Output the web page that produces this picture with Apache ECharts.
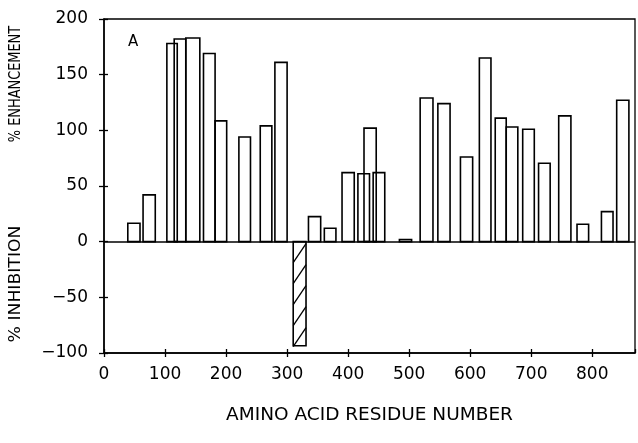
<!DOCTYPE html>
<html>
<head>
<meta charset="utf-8">
<script src="https://cdn.jsdelivr.net/npm/echarts@6/dist/echarts.min.js"></script>
<style>
html,body{margin:0;padding:0;background:#fff;}
#chart{width:638px;height:443px;}
</style>
</head>
<body>
<div id="chart"></div>
<script>
// Peptide residue ranges (start / end residue) and response (%)
const peptideStart = [39, 64, 103, 115, 134, 163, 182, 221, 256, 280, 310, 335, 361, 390, 416, 426, 441, 484, 518, 547, 584, 615, 641, 659, 686, 712, 745, 775, 815, 840];
const peptideEnd   = [59, 84, 120, 134, 157, 182, 201, 240, 275, 300, 331, 355, 380, 410, 435, 446, 460, 504, 539, 567, 604, 634, 659, 678, 705, 731, 765, 794, 834, 860];
const response     = [16.5, 42, 178, 182, 183, 169, 108.5, 94, 104, 161, -93.5, 22.5, 12, 62, 61, 102, 62, 2, 129, 124, 76, 165, 111, 103, 101, 70.5, 113, 15.6, 27, 127];
const xTicks = [0, 100, 200, 300, 400, 500, 600, 700, 800];
const yTicks = [-100, -50, 0, 50, 100, 150, 200];

const FONT = 'DejaVu Sans';
const data = peptideStart.map((s, i) => [s, peptideEnd[i], response[i]]);

function renderItem(params, api) {
  const s = api.value(0), e = api.value(1), v = api.value(2);
  const pTop = api.coord([s, v]);
  const pBase = api.coord([e, 0]);
  const x = pTop[0], w = pBase[0] - pTop[0];
  const y = Math.min(pTop[1], pBase[1]);
  const h = Math.abs(pBase[1] - pTop[1]);
  const children = [{
    type: 'rect',
    shape: { x: x, y: y, width: w, height: h },
    style: { fill: 'none', stroke: '#000', lineWidth: 1.6 }
  }];
  if (v < 0) {
    const step = 21, rise = 19;
    for (let yy = y + step; yy <= y + h + 1; yy += step) {
      children.push({
        type: 'line',
        shape: { x1: x, y1: yy, x2: x + w, y2: yy - rise },
        style: { stroke: '#000', lineWidth: 1.3 }
      });
    }
  }
  return { type: 'group', children: children };
}

const chart = echarts.init(document.getElementById('chart'), null, { renderer: 'canvas' });
const axisLabelStyle = { color: '#000', fontFamily: FONT, fontSize: 17 };
chart.setOption({
  animation: false,
  backgroundColor: '#fff',
  grid: { left: 104, right: 3, top: 19, bottom: 90, show: true, borderColor: '#000', borderWidth: 1.3 },
  xAxis: [{
    type: 'value', min: 0, max: 870, interval: 100,
    name: 'AMINO ACID RESIDUE NUMBER', nameLocation: 'middle', nameGap: 53,
    nameTextStyle: { color: '#000', fontFamily: FONT, fontSize: 18.5 },
    axisLine: { onZero: false, lineStyle: { color: '#000', width: 1.5 } },
    axisTick: { show: true, length: 4, lineStyle: { color: '#000', width: 1.3 } },
    axisLabel: Object.assign({ margin: 13, showMaxLabel: false,
      formatter: v => xTicks.indexOf(v) >= 0 ? String(v) : '' }, axisLabelStyle),
    splitLine: { show: false }
  }, {
    type: 'value', min: 0, max: 870, interval: 100, position: 'bottom',
    axisLine: { show: false, onZero: false },
    axisTick: { show: true, inside: true, length: 4, lineStyle: { color: '#000', width: 1.3 } },
    axisLabel: { show: false }, splitLine: { show: false }
  }],
  yAxis: [{
    type: 'value', min: -100, max: 200, interval: 50,
    axisLine: { show: true, lineStyle: { color: '#000', width: 1.5 } },
    axisTick: { show: true, length: 5, lineStyle: { color: '#000', width: 1.3 } },
    axisLabel: Object.assign({ margin: 16,
      formatter: v => yTicks.indexOf(v) >= 0 ? String(v).replace('-', '\u2212') : '' }, axisLabelStyle),
    splitLine: { show: false }
  }, {
    type: 'value', min: -100, max: 200, interval: 50, position: 'left',
    axisLine: { show: false },
    axisTick: { show: true, inside: true, length: 4, lineStyle: { color: '#000', width: 1.3 } },
    axisLabel: { show: false }, splitLine: { show: false }
  }],
  graphic: [
    { type: 'text', left: 128, top: 35, style: { text: 'A', fill: '#000', font: '15px "DejaVu Sans"' } },
    { type: 'text', x: 16, y: 84, rotation: Math.PI / 2, scaleX: 0.86,
      style: { text: '% ENHANCEMENT', fill: '#000', font: '15px "DejaVu Sans"', align: 'center', verticalAlign: 'middle' } },
    { type: 'text', x: 16, y: 284, rotation: Math.PI / 2, scaleX: 1.15,
      style: { text: '% INHIBITION', fill: '#000', font: '15px "DejaVu Sans"', align: 'center', verticalAlign: 'middle' } }
  ],
  series: [{
    type: 'custom',
    renderItem: renderItem,
    data: data,
    encode: { x: [0, 1], y: 2 },
    markLine: {
      silent: true, symbol: 'none', label: { show: false },
      lineStyle: { color: '#000', type: 'solid', width: 1.5 },
      data: [{ yAxis: 0 }]
    }
  }]
});
</script>
</body>
</html>
